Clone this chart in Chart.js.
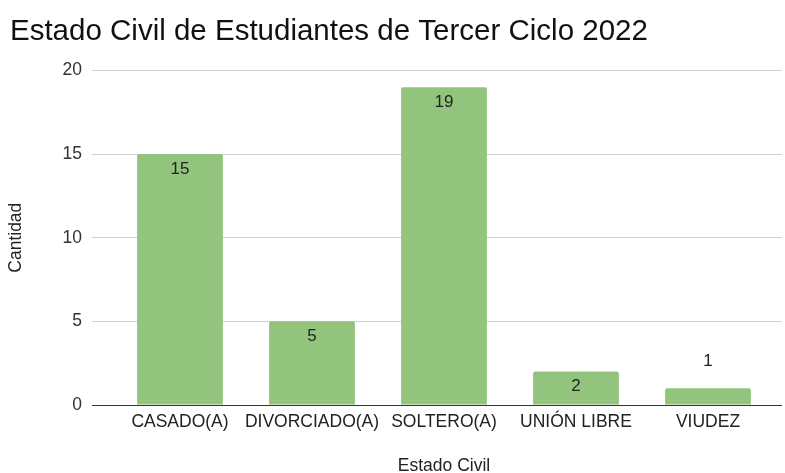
<!DOCTYPE html>
<html>
<head>
<meta charset="utf-8">
<script src="https://cdn.jsdelivr.net/npm/chart.js@4/dist/chart.umd.min.js"></script>
<style>
    html, body { margin: 0; padding: 0; background: #ffffff; }
    #wrap { width: 785px; height: 473px; }
</style>
</head>
<body>
<div id="wrap"><canvas id="chart"></canvas></div>
<script>
const categories = ['CASADO(A)', 'DIVORCIADO(A)', 'SOLTERO(A)', 'UNIÓN LIBRE', 'VIUDEZ'];
const cantidad = [15, 5, 19, 2, 1];
const yTicks = [0, 5, 10, 15, 20];

const FONT = "'Liberation Sans', Arial, sans-serif";
const gridColor = (c) => (c.tick && c.tick.value === 0) ? '#333333' : '#d0d0d0';

// etiquetas de valor: dentro de la barra si cabe, si no encima
const valueLabels = {
    id: 'valueLabels',
    afterDatasetsDraw(chart) {
        const { ctx } = chart;
        const meta = chart.getDatasetMeta(0);
        ctx.save();
        ctx.font = '17px ' + FONT;
        ctx.fillStyle = '#222222';
        ctx.textAlign = 'center';
        ctx.textBaseline = 'middle';
        meta.data.forEach((bar, i) => {
            const h = bar.base - bar.y;
            const y = h > 26 ? bar.y + 15 : bar.y - 27;
            ctx.fillText(String(cantidad[i]), bar.x, y);
        });
        ctx.restore();
    }
};

new Chart(document.getElementById('chart'), {
    type: 'bar',
    data: {
        labels: categories,
        datasets: [{
            label: 'Cantidad',
            data: cantidad,
            backgroundColor: '#93c47d',
            borderRadius: 2,
            barPercentage: 0.65,
            categoryPercentage: 1
        }]
    },
    options: {
        responsive: true,
        maintainAspectRatio: false,
        animation: false,
        layout: { padding: { left: 10, right: 3, top: 0, bottom: 0 } },
        plugins: {
            legend: { display: false },
            tooltip: { enabled: false },
            title: {
                display: true,
                text: 'Estado Civil de Estudiantes de Tercer Ciclo 2022',
                align: 'start',
                color: '#111111',
                font: { family: FONT, size: 29.5, weight: 'normal' },
                padding: { top: 14, bottom: 21 }
            }
        },
        scales: {
            x: {
                grid: { display: false, drawTicks: false },
                border: { display: false },
                ticks: {
                    color: '#222222',
                    font: { family: FONT, size: 17.5 },
                    padding: 7,
                    maxRotation: 0,
                    autoSkip: false
                },
                title: {
                    display: true,
                    text: 'Estado Civil',
                    color: '#222222',
                    font: { family: FONT, size: 17.5 },
                    padding: { top: 0, bottom: -4 }
                },
                afterFit(s) { s.height = 68; }
            },
            y: {
                min: 0,
                max: 20,
                afterBuildTicks(s) { s.ticks = yTicks.map(v => ({ value: v })); },
                grid: { color: gridColor, tickLength: 22 },
                border: { display: false },
                ticks: {
                    color: '#333333',
                    font: { family: FONT, size: 17.5 },
                    padding: 10
                },
                title: {
                    display: true,
                    text: 'Cantidad',
                    color: '#222222',
                    font: { family: FONT, size: 17.5 },
                    padding: { top: -4, bottom: 0 }
                },
                afterFit(s) { s.width = 104; }
            },
            y2: {
                position: 'right',
                min: 0,
                max: 20,
                afterBuildTicks(s) { s.ticks = yTicks.map(v => ({ value: v })); },
                grid: { color: gridColor, drawOnChartArea: false, tickLength: 8 },
                border: { display: false },
                ticks: { display: false },
                afterFit(s) { s.width = 8; }
            }
        }
    },
    plugins: [valueLabels]
});
</script>
</body>
</html>
